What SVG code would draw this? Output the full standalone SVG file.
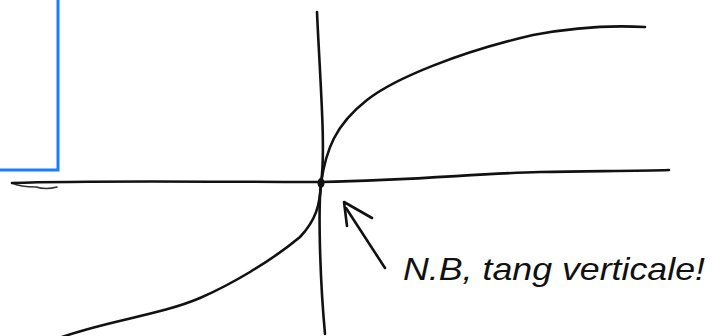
<svg xmlns="http://www.w3.org/2000/svg" width="713" height="336" viewBox="0 0 713 336">
<style>
.ink{fill:none;stroke:#111;stroke-width:2.6;stroke-linecap:round;stroke-linejoin:round}
.thin{fill:none;stroke:#333;stroke-width:1.6;stroke-linecap:round}
.blue{fill:none;stroke:#1a7dff;stroke-width:3}
.hand{font-family:"Liberation Sans","DejaVu Sans",sans-serif;font-style:italic;font-size:32px;fill:#111}
</style>
<rect width="713" height="336" fill="#fff"/>
<g id="frame">
<path class="blue" d="M58,0 L58,170 L0,170"/>
</g>
<g id="axes">
<path class="thin" d="M57,187 Q46,190 36,187 Q20,187 12,183"/>
<path class="ink" stroke-width="2.2" d="M12,183 C100,180 220,182 321,182 C420,180 470,174 540,172 C600,171 640,171 669,170"/>
<path class="ink" d="M317,12 C320,80 326,150 321,183 C318,210 320,280 325,334"/>
</g>
<g id="curve">
<path class="ink" d="M645,27 C610,25 570,28 533,35 C460,52 395,78 367,100 C335,125 326,150 321,183 C320,205 316,220 300,237 C270,262 230,285 200,298 C160,315 110,320 62,337"/>
<ellipse cx="321" cy="183" rx="3.5" ry="5" fill="#111"/>
</g>
<g id="note">
<path class="ink" d="M385,268 L346,208"/>
<path class="ink" d="M347,226 L344,202 Q358,210 372,218"/>
<text class="hand" x="403" y="280" textLength="302" lengthAdjust="spacingAndGlyphs">N.B, tang verticale!</text>
</g>
</svg>
